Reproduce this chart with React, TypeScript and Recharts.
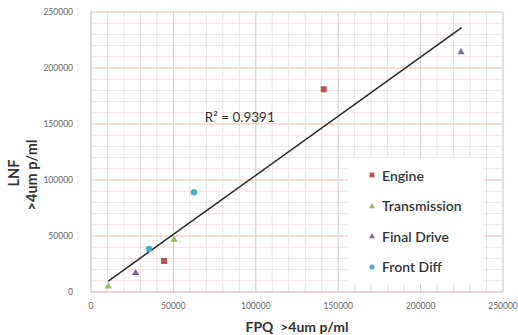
import React from 'react';
import {
  ScatterChart,
  Scatter,
  XAxis,
  YAxis,
  CartesianGrid,
  ReferenceLine,
  ReferenceDot,
  Legend,
} from 'recharts';

// values
const engine = [
  { x: 44300, y: 27700 },
  { x: 141200, y: 181000 },
];
const transmission = [
  { x: 10500, y: 5600 },
  { x: 50500, y: 47300 },
];
const finalDrive = [
  { x: 27100, y: 17600 },
  { x: 224500, y: 214600 },
];
const frontDiff = [
  { x: 35200, y: 38400 },
  { x: 62500, y: 89000 },
];
const trendline = [
  { x: 10500, y: 9800 },
  { x: 224900, y: 236000 },
];

const majorTicks = [0, 50000, 100000, 150000, 200000, 250000];
const minorTicks = [
  0, 10000, 20000, 30000, 40000, 50000, 60000, 70000, 80000, 90000, 100000,
  110000, 120000, 130000, 140000, 150000, 160000, 170000, 180000, 190000, 200000,
  210000, 220000, 230000, 240000, 250000,
];

const rSquared = 'R² = 0.9391';
const rSquaredAt = { x: 69000, y: 151500 };

const FONT = 'Lato, "Open Sans", sans-serif';

const colors: Record<string, string> = {
  Engine: '#c0504d',
  Transmission: '#9bbb59',
  'Final Drive': '#8064a2',
  'Front Diff': '#4bacc6',
};

const Marker = ({ kind, cx, cy, fill, s = 1 }: any) => {
  if (kind === 'square') {
    const h = 3 * s;
    return <rect x={cx - h} y={cy - h} width={h * 2} height={h * 2} fill={fill} />;
  }
  if (kind === 'triangle') {
    const a = 3.6 * s;
    return (
      <polygon
        points={`${cx},${cy - a} ${cx + a},${cy + a * 0.75} ${cx - a},${cy + a * 0.75}`}
        fill={fill}
      />
    );
  }
  return <circle cx={cx} cy={cy} r={3.2 * s} fill={fill} />;
};

const shapeFor: Record<string, string> = {
  Engine: 'square',
  Transmission: 'triangle',
  'Final Drive': 'triangle',
  'Front Diff': 'circle',
};

const tickFmt = (v: number) => (majorTicks.includes(v) ? String(v) : '');

const LegendBox = () => {
  const names = ['Engine', 'Transmission', 'Final Drive', 'Front Diff'];
  return (
    <div style={{ paddingTop: 2 }}>
      {names.map((n) => (
        <div key={n} style={{ height: 30.5, display: 'flex', alignItems: 'center' }}>
          <svg width={34} height={12} style={{ flex: 'none' }}>
            <Marker kind={shapeFor[n]} cx={24} cy={6} fill={colors[n]} s={0.8} />
          </svg>
          <span style={{ fontFamily: FONT, fontSize: 14, color: '#333', fontWeight: 600 }}>{n}</span>
        </div>
      ))}
    </div>
  );
};

const XTitle = ({ viewBox }: any) => (
  <text
    x={viewBox.x + viewBox.width / 2}
    y={332}
    textAnchor="middle"
    fontFamily={FONT}
    fontWeight="bold"
    fontSize={14}
    fill="#333"
    style={{ whiteSpace: 'pre' }}
  >
    {'FPQ  >4um p/ml'}
  </text>
);

const YTitle = () => (
  <g fontFamily={FONT} fontWeight="bold" fontSize={14.5} fill="#333" textAnchor="middle">
    <text transform="translate(19,173) rotate(-90)">LNF</text>
    <text transform="translate(37,175) rotate(-90)">{'>4um p/ml'}</text>
  </g>
);

const RLabel = ({ viewBox }: any) => (
  <text x={viewBox.x} y={viewBox.y} fontFamily={FONT} fontSize={13.5} fill="#333">
    {rSquared}
  </text>
);

export default function App() {
  const tickStyle = { fontFamily: FONT, fontSize: 8.5, fill: '#666' };
  const mk = (kind: string, fill: string) => (p: any) => <Marker kind={kind} cx={p.cx} cy={p.cy} fill={fill} />;
  return (
    <div style={{ position: 'absolute', left: 0, top: 0, width: 518, height: 335, background: '#fff' }}>
      <ScatterChart width={518} height={335} margin={{ top: 12, right: 15, left: 0, bottom: 0 }}>
        <CartesianGrid stroke="#f0e3df" vertical={false} />
        <CartesianGrid stroke="#e8e2e5" horizontal={false} />
        <XAxis
          type="number"
          dataKey="x"
          domain={[0, 250000]}
          ticks={minorTicks}
          tickFormatter={tickFmt}
          interval={0}
          height={43}
          tickLine={false}
          tickSize={6}
          tickMargin={5}
          axisLine={{ stroke: '#c9bcb8' }}
          tick={tickStyle}
          label={<XTitle />}
        />
        <YAxis
          type="number"
          dataKey="y"
          domain={[0, 250000]}
          ticks={minorTicks}
          tickFormatter={tickFmt}
          interval={0}
          width={91}
          tickLine={false}
          tickSize={6}
          tickMargin={12}
          axisLine={{ stroke: '#c9bcb8' }}
          tick={tickStyle}
          label={<YTitle />}
        />
        {majorTicks.slice(1).map((v) => (
          <ReferenceLine key={'vx' + v} x={v} stroke="#d6ced2" />
        ))}
        {majorTicks.slice(1).map((v) => (
          <ReferenceLine key={'hy' + v} y={v} stroke="#e4cdc6" />
        ))}
        <ReferenceDot x={rSquaredAt.x} y={rSquaredAt.y} r={0} label={<RLabel />} />
        <Legend
          layout="vertical"
          align="center"
          verticalAlign="middle"
          content={<LegendBox />}
          wrapperStyle={{ left: 348, top: 158, width: 135, height: 126, background: '#fff' }}
        />
        <Scatter
          name="trend"
          data={trendline}
          line={{ stroke: '#262626', strokeWidth: 1.5 }}
          shape={() => <g />}
          legendType="none"
          isAnimationActive={false}
        />
        <Scatter name="Engine" data={engine} shape={mk('square', colors.Engine)} isAnimationActive={false} />
        <Scatter name="Transmission" data={transmission} shape={mk('triangle', colors.Transmission)} isAnimationActive={false} />
        <Scatter name="Final Drive" data={finalDrive} shape={mk('triangle', colors['Final Drive'])} isAnimationActive={false} />
        <Scatter name="Front Diff" data={frontDiff} shape={mk('circle', colors['Front Diff'])} isAnimationActive={false} />
      </ScatterChart>
    </div>
  );
}
